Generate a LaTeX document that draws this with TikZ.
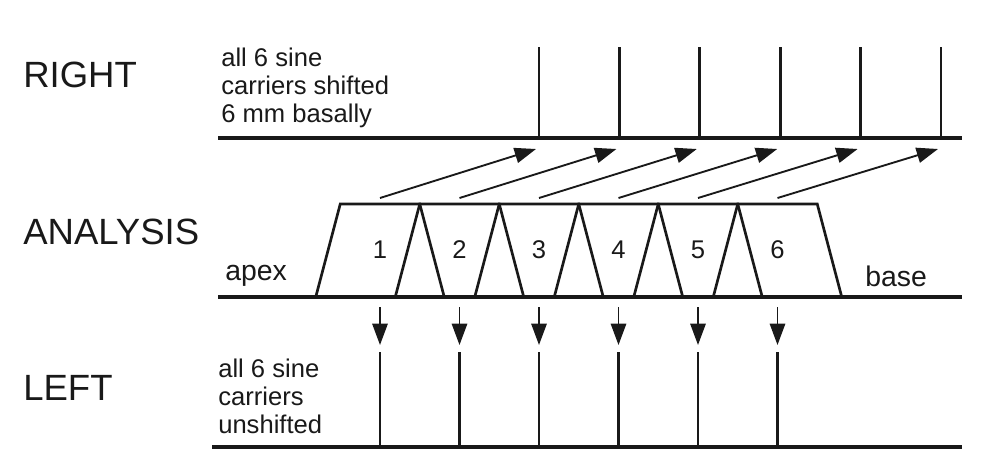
\documentclass[tikz,border=0pt]{standalone}
\usepackage{fontspec}
\setmainfont{Liberation Sans}
\usetikzlibrary{arrows.meta}
\definecolor{ink}{RGB}{25,25,25}
\tikzset{
  big/.style={font=\fontsize{27.4}{30}\selectfont, text=ink, inner sep=0pt, anchor=west},
  small/.style={font=\fontsize{19.2}{21}\selectfont, text=ink, inner sep=0pt},
  end/.style={font=\fontsize{21.3}{23}\selectfont, text=ink, inner sep=0pt, anchor=west},
  baseln/.style={draw=ink, line width=2.9pt},
  carrier/.style={draw=ink, line width=2pt},
  filt/.style={draw=ink, line width=2pt, line join=miter},
  arr/.style={draw=ink, line width=1.4pt, -{Triangle[length=16pt,width=11.5pt]}}
}
% one channel: #1 number, #2 x of the filter, #3 x of the shifted carrier
\newcommand\chan[3]{
  \draw[filt] (#2-64.25,297) -- (#2-39.75,204) -- (#2+39.75,204) -- (#2+64.25,297);
  \node[small] (n#1) at (#2,250) {#1};
  \coordinate (u#1) at (#2,198);
  \coordinate (v#1) at (#3-3,149);
  \draw[arr] (u#1) -- (v#1);
  \coordinate (d#1) at (#2,307);
  \coordinate (e#1) at (#2,345);
  \draw[arr] (d#1) -- (e#1);
  \draw[carrier] (#2,352) -- (#2,447);
  \draw[carrier] (#3,47) -- (#3,138);
}

\begin{document}
\begin{tikzpicture}[x=0.75pt,y=-0.75pt]
\useasboundingbox (0,0) rectangle (1003,472);

\node[big] (right) at (23,75) {RIGHT};
\node[big] (analysis) at (23,232) {ANALYSIS};
\node[big] (left) at (23,388) {LEFT};

\node[small, anchor=west, align=left] (rtxt) at (221,88) {all 6 sine\\carriers shifted\\6 mm basally};
\node[small, anchor=west, align=left] (ltxt) at (218,396) {all 6 sine\\carriers\\unshifted};
\node[end] (apex) at (225,276) {apex};
\node[end] (base) at (865,276) {base};

\chan{1}{380}{539};
\chan{2}{459.5}{619.4};
\chan{3}{539}{699.8};
\chan{4}{618.5}{780.2};
\chan{5}{698}{860.6};
\chan{6}{777.5}{941};

\draw[baseln] (218,138) -- (962,138);
\draw[baseln] (218,297) -- (962,297);
\draw[baseln] (212,447) -- (962,447);

\end{tikzpicture}
\end{document}
